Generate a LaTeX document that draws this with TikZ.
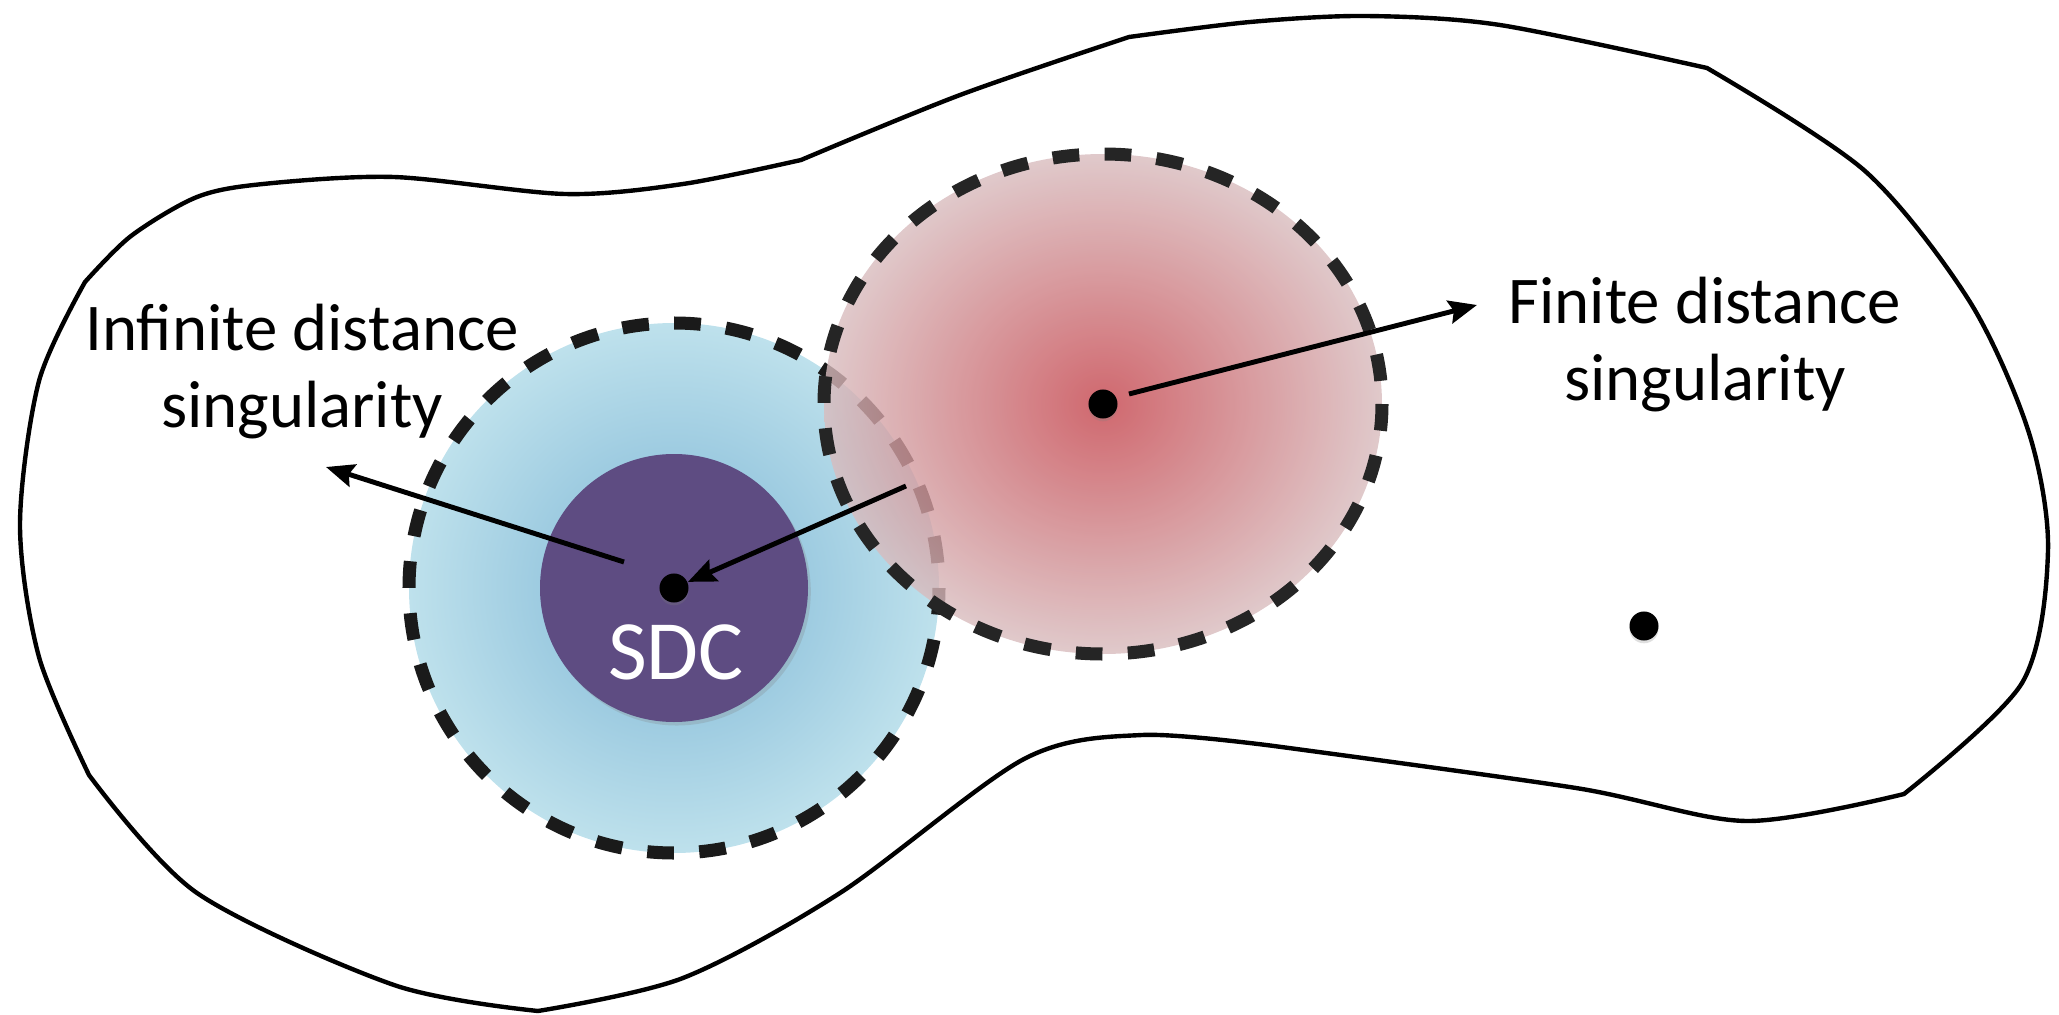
\documentclass[tikz,border=0pt]{standalone}
\usepackage{fontspec}
\setmainfont{Carlito}
\usetikzlibrary{arrows.meta,shadows}
\definecolor{skyin}{RGB}{124,181,213}
\definecolor{skyout}{RGB}{190,225,236}
\definecolor{rosein}{RGB}{196,66,74}
\definecolor{roseout}{RGB}{216,188,190}
\definecolor{sdcpurple}{RGB}{94,76,130}
\definecolor{dashgray}{RGB}{26,26,26}
\tikzset{
  rim/.style={draw=dashgray, line width=3.7pt, dash pattern=on 7.6pt off 7.2pt},
  dot/.style={circle, fill=black, inner sep=0pt, minimum size=0.29cm,
    drop shadow={shadow xshift=0pt, shadow yshift=-0.8pt, opacity=0.25}},
  pointer/.style={-{Stealth[length=8pt,width=6.6pt,inset=1.2pt]}, line width=1.4pt},
  lbl/.style={align=center, font=\fontsize{19}{21.8}\selectfont, inner sep=0pt}
}
\begin{document}
\begin{tikzpicture}[x=0.01cm,y=-0.01cm]
\useasboundingbox (0,0) rectangle (2059,1015);
\coordinate (blueC) at (674,588);
\coordinate (redC) at (1103,404);
% moduli space
\draw[line width=1.25pt, line join=miter]
  plot[smooth] coordinates {(85,282) (131,236) (197,197) (263,184) (394,177) (565,194) (683,184) (801,160)}
  -- plot[smooth] coordinates {(801,160) (960,95) (1129,37)}
  -- plot[smooth] coordinates {(1129,37) (1250,22) (1366,16) (1500,25) (1707,68)}
  -- plot[smooth] coordinates {(1707,68) (1865,171) (1970,302) (2029,433) (2048,551) (2022,683) (1904,794)}
  -- plot[smooth] coordinates {(1904,794) (1746,821) (1576,788) (1274,746)}
  -- plot[smooth] coordinates {(1274,746) (1142,735) (1024,759) (840,893) (683,978) (538,1011)}
  -- plot[smooth] coordinates {(538,1011) (394,985) (197,893) (89,775)}
  -- plot[smooth] coordinates {(89,775) (39,657) (20,525) (39,381) (85,282)}
  -- cycle;
% infinite distance region
\shade[inner color=skyin, outer color=skyout] (blueC) circle[radius=265];
\draw[rim] (blueC) circle[radius=265];
\fill[sdcpurple, drop shadow={shadow xshift=0.8pt, shadow yshift=-1pt, opacity=0.25}] (blueC) circle[radius=134];
\node[text=white, font=\fontsize{24}{26}\selectfont] (sdc) at (676,652) {SDC};
% finite distance region
\shade[inner color=rosein, outer color=roseout, fill opacity=0.8] (redC) ellipse[x radius=279, y radius=250];
\draw[rim, draw=dashgray!95] (redC) ellipse[x radius=279, y radius=250];
% points
\node[dot] (sdcdot) at (blueC) {};
\node[dot] (fdsdot) at (redC) {};
\node[dot] (regdot) at (1644,626) {};
% labels
\node[lbl, anchor=base] (inflbl) at (302,427) {Infinite distance\\singularity};
\node[lbl, anchor=base] (finlbl) at (1705,400) {Finite distance\\singularity};
\coordinate (inftail) at (624,562);
\coordinate (infhead) at (326,467);
\coordinate (crosstail) at (906,486);
\coordinate (fintail) at (1129,394);
\coordinate (finhead) at (1477,305);
\draw[pointer] (inftail) -- (infhead);
\draw[pointer] (crosstail) -- (sdcdot);
\draw[pointer] (fintail) -- (finhead);
\end{tikzpicture}
\end{document}
